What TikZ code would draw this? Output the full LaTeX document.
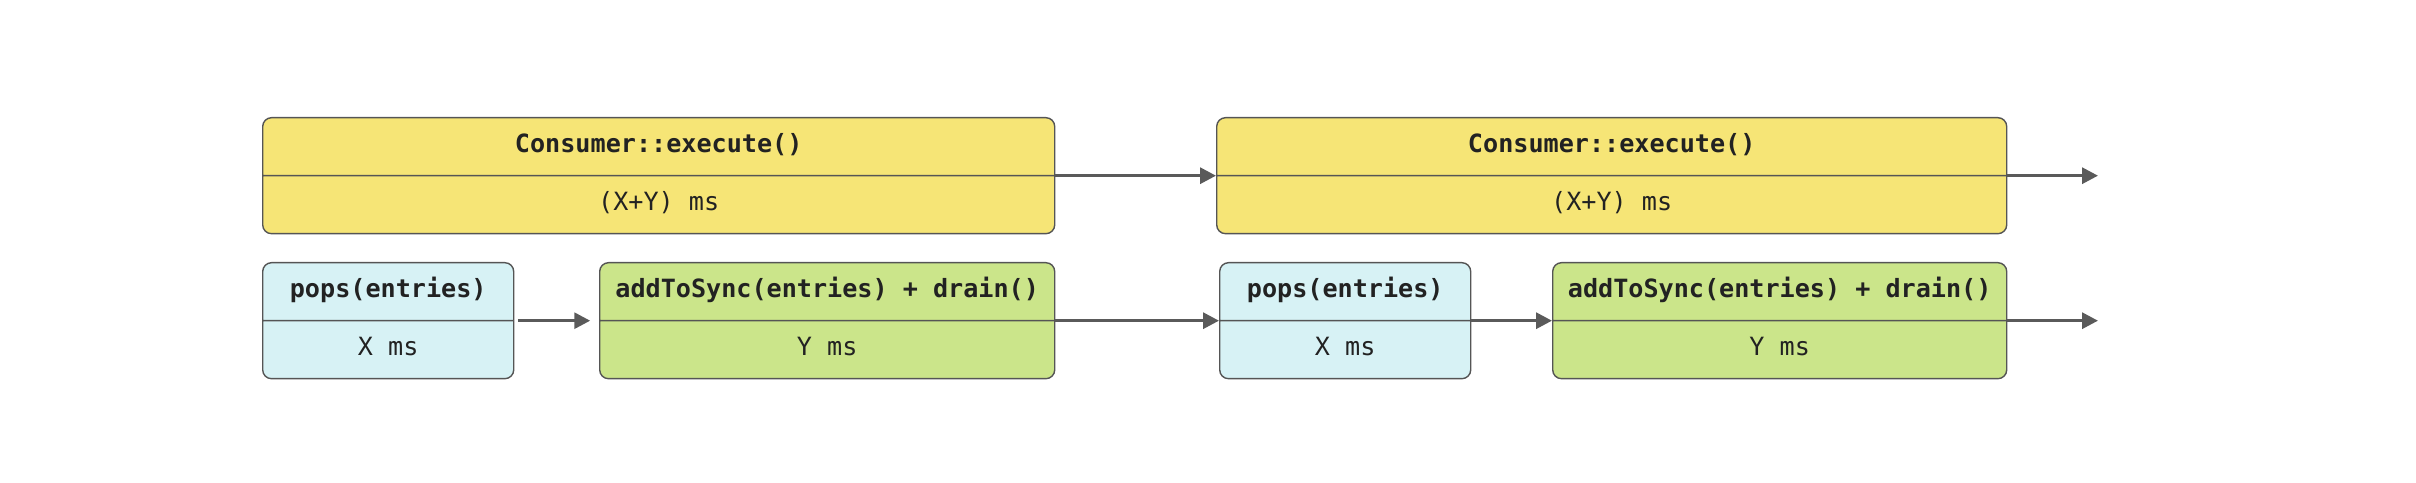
\documentclass[tikz,border=0pt]{standalone}
\usepackage{fontspec}
\setmonofont{DejaVu Sans Mono}
\usetikzlibrary{shapes.multipart,arrows.meta}
\definecolor{callyellow}{RGB}{246,229,118}
\definecolor{popblue}{RGB}{215,242,245}
\definecolor{syncgreen}{RGB}{203,229,138}
\definecolor{edgegray}{RGB}{85,85,85}
\definecolor{arrowgray}{RGB}{90,90,90}
\definecolor{inkgray}{RGB}{34,34,34}

\begin{document}
\begin{tikzpicture}[
  stage/.style={rectangle split, rectangle split parts=2, draw=edgegray, line width=0.8pt,
    rounded corners=5pt, anchor=north west, align=center, text=inkgray,
    font=\ttfamily\fontsize{14.3}{17}\selectfont, inner ysep=7.6pt, inner xsep=0pt},
  flow/.style={arrowgray, line width=1.8pt, -{Triangle[length=9pt,width=9pt]}}
]
\useasboundingbox (0,0) rectangle (48.32,9.64);

\node[stage, fill=callyellow, minimum width=15.84cm] (exec1) at (5.24,7.30)
  {\textbf{Consumer::execute()}\strut \nodepart{two} (X+Y) ms\strut};
\node[stage, fill=callyellow, minimum width=15.80cm] (exec2) at (24.32,7.30)
  {\textbf{Consumer::execute()}\strut \nodepart{two} (X+Y) ms\strut};

\node[stage, fill=popblue, minimum width=5.02cm] (pops1) at (5.24,4.40)
  {\textbf{pops(entries)}\strut \nodepart{two} X ms\strut};
\node[stage, fill=syncgreen, minimum width=9.10cm] (sync1) at (11.98,4.40)
  {\textbf{addToSync(entries) + drain()}\strut \nodepart{two} Y ms\strut};
\node[stage, fill=popblue, minimum width=5.02cm] (pops2) at (24.38,4.40)
  {\textbf{pops(entries)}\strut \nodepart{two} X ms\strut};
\node[stage, fill=syncgreen, minimum width=9.08cm] (sync2) at (31.04,4.40)
  {\textbf{addToSync(entries) + drain()}\strut \nodepart{two} Y ms\strut};

\coordinate (next) at (41.96,0);

\draw[flow] (exec1.text split east) -- (exec2.text split west);
\draw[flow] (exec2.text split east) -- (exec2.text split east -| next);
\draw[flow] ([xshift=2pt]pops1.text split east) -- ([xshift=-5pt]sync1.text split west);
\draw[flow] (sync1.text split east) -- (pops2.text split west);
\draw[flow] (pops2.text split east) -- (sync2.text split west);
\draw[flow] (sync2.text split east) -- (sync2.text split east -| next);
\end{tikzpicture}
\end{document}
